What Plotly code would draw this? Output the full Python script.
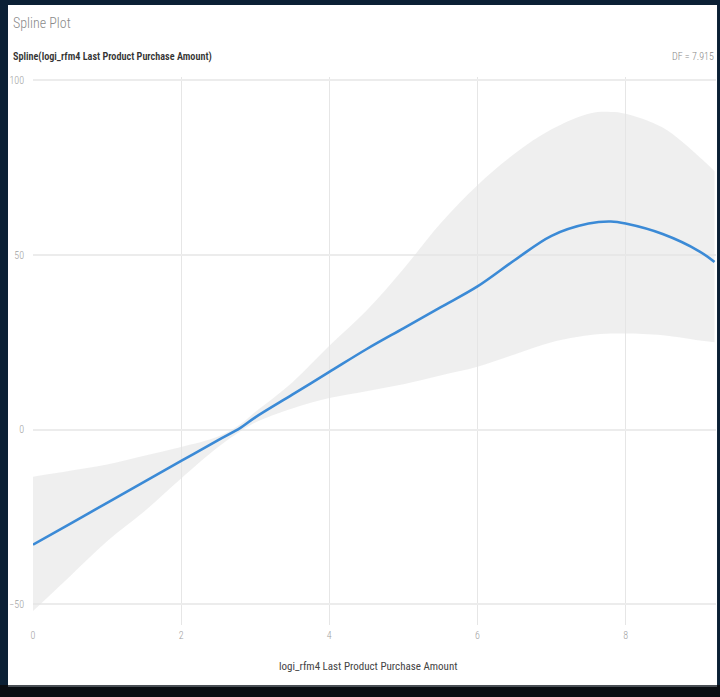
import plotly.graph_objects as go

# Data
x_vals = [0, 0.5, 1, 1.5, 2, 2.5, 2.8, 3, 3.5, 4, 4.5, 5, 5.5, 6, 6.5, 7, 7.5, 7.8, 8, 8.5, 9, 9.2]
spline = [-33, -27, -21, -15, -9, -3, 0.5, 3.5, 10, 16.5, 23, 29, 35, 41, 48.5, 55.5, 59, 59.6, 59, 56, 51, 48]
upper = [-13.5, -11.8, -10, -7.5, -5, -2, 1.5, 5, 13.5, 24, 34, 46, 59, 70, 79, 86, 90.5, 91, 90.5, 86.5, 78, 74]
lower = [-52, -42, -32, -23.5, -14, -5, -0.5, 2, 6, 9, 11, 13, 15.5, 18, 21.5, 25, 27, 27.5, 27.5, 27, 25.5, 25]
x_ticks = [0, 2, 4, 6, 8]
y_ticks = [-50, 0, 50, 100]

title = "Spline Plot"
subtitle = "Spline(logi_rfm4 Last Product Purchase Amount)"
df_text = "DF = 7.915"
x_title = "logi_rfm4 Last Product Purchase Amount"

FONT = "Roboto Condensed, DejaVu Sans Condensed, sans-serif"

fig = go.Figure()
fig.add_trace(go.Scatter(x=x_vals, y=lower, mode="lines", line=dict(width=0, shape="spline"),
                         hoverinfo="skip", showlegend=False))
fig.add_trace(go.Scatter(x=x_vals, y=upper, mode="lines", line=dict(width=0, shape="spline"),
                         fill="tonexty", fillcolor="rgba(228,228,228,0.6)", hoverinfo="skip", showlegend=False))
fig.add_trace(go.Scatter(x=x_vals, y=spline, mode="lines",
                         line=dict(color="#3b8ad6", width=2.6, shape="spline"), showlegend=False))

# white panel and bottom strip
fig.add_shape(type="rect", xref="paper", yref="paper", x0=-0.0366, x1=1.0015, y0=-0.1095, y1=1.1314,
              fillcolor="white", line=dict(width=0), layer="below")
fig.add_shape(type="rect", xref="paper", yref="paper", x0=-0.06, x1=1.01, y0=-0.14, y1=-0.1095,
              fillcolor="#0a0d12", line=dict(width=0), layer="below")
fig.add_shape(type="line", xref="paper", yref="paper", x0=-0.0366, x1=1.0015, y0=-0.1115, y1=-0.1115,
              line=dict(color="#4a4f55", width=2), layer="below")

fig.add_annotation(text=title, xref="paper", yref="paper", x=-0.0293, y=1.0985, xanchor="left",
                   xshift=-2, yanchor="middle", showarrow=False,
                   font=dict(family=FONT, size=14, color="#8a8a8a", weight=300))
fig.add_annotation(text=subtitle, xref="paper", yref="paper", x=-0.0293, y=1.0365,
                   xanchor="left", xshift=-2, yanchor="middle", showarrow=False,
                   font=dict(family=FONT, size=10.2, color="#333333", weight=600))
fig.add_annotation(text=df_text, xref="paper", yref="paper", x=1.0, y=1.0365, xanchor="right",
                   yanchor="middle", showarrow=False,
                   font=dict(family=FONT, size=10, color="#888888", weight=300))
fig.add_annotation(text=x_title, xref="paper", yref="paper", x=0.49, y=-0.0766, xanchor="center",
                   yanchor="middle", showarrow=False, font=dict(family=FONT, size=11, color="#444444"))

fig.update_layout(
    width=720, height=697,
    margin=dict(l=33, r=4, t=77, b=72),
    paper_bgcolor="#0b2035",
    plot_bgcolor="white",
    font=dict(family=FONT),
    xaxis=dict(range=[0, 9.22], tickvals=x_ticks, showgrid=True, gridcolor="#e6e6e6", gridwidth=1,
               zeroline=False, showline=False, ticks="", ticklabelstandoff=3,
               tickfont=dict(size=10, color="#a0a0a0", weight=300)),
    yaxis=dict(range=[-56, 101], tickvals=y_ticks, showgrid=True, gridcolor="#ececec", gridwidth=2,
               zeroline=False, showline=False, ticks="", ticklabelstandoff=8,
               tickfont=dict(size=10, color="#a0a0a0", weight=300)),
)

post = (
    "var s=document.createElement('style');"
    "s.textContent='html,body{margin:0;padding:0;overflow:hidden;background:#0b2035}';"
    "document.head.appendChild(s);"
)

fig.write_html("out.html", post_script=post, config={"displayModeBar": False})
